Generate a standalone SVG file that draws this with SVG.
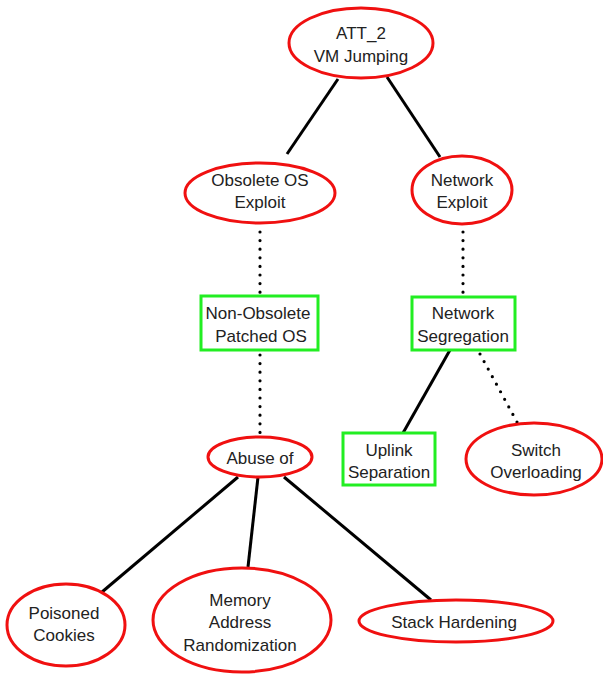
<svg xmlns="http://www.w3.org/2000/svg" width="603" height="675" viewBox="0 0 603 675">
<style>
.att{fill:#fff;stroke:#f01010;stroke-width:3}
.def{fill:#fff;stroke:#22ee22;stroke-width:3}
.e{stroke:#000;stroke-width:3;fill:none}
.d{stroke:#000;stroke-width:3.2;fill:none;stroke-dasharray:0 8.6;stroke-linecap:round}
text{font-family:"Liberation Sans",Arial,sans-serif;font-size:17px;fill:#222;text-anchor:middle}
</style>
<rect width="603" height="675" fill="#fff"/>
<g id="connectors">
<line class="e" x1="338" y1="79" x2="287" y2="154"/>
<line class="e" x1="387" y1="77" x2="440" y2="157"/>
<line class="d" x1="260" y1="232" x2="260" y2="296"/>
<line class="d" x1="463" y1="232" x2="463" y2="296"/>
<line class="d" x1="260" y1="355" x2="260" y2="437"/>
<line class="e" x1="450" y1="350" x2="403" y2="433"/>
<line class="d" x1="480" y1="354" x2="517" y2="422"/>
<line class="e" x1="238" y1="477" x2="102" y2="592"/>
<line class="e" x1="258" y1="477" x2="248" y2="567"/>
<line class="e" x1="284" y1="477" x2="431" y2="600"/>
</g>
<g id="att2"><ellipse class="att" cx="361" cy="43" rx="72" ry="35"/><text x="361" y="39">ATT_2</text><text x="361" y="62">VM Jumping</text></g>
<g id="obsolete"><ellipse class="att" cx="260" cy="193" rx="75" ry="30"/><text x="260" y="186">Obsolete OS</text><text x="260" y="208">Exploit</text></g>
<g id="netexploit"><ellipse class="att" cx="462" cy="190" rx="50" ry="34"/><text x="462" y="186">Network</text><text x="462" y="208">Exploit</text></g>
<g id="nonobsolete"><rect class="def" x="201" y="296" width="117" height="54"/><text x="258" y="319">Non-Obsolete</text><text x="261" y="342">Patched OS</text></g>
<g id="netseg"><rect class="def" x="412" y="297" width="103" height="53"/><text x="463" y="319">Network</text><text x="463" y="342">Segregation</text></g>
<g id="abuse"><ellipse class="att" cx="260" cy="457" rx="52" ry="20"/><text x="260" y="464">Abuse of</text></g>
<g id="uplink"><rect class="def" x="343" y="433" width="92" height="52"/><text x="389" y="456">Uplink</text><text x="389" y="478">Separation</text></g>
<g id="switch"><ellipse class="att" cx="534" cy="459" rx="68" ry="36"/><text x="536" y="456">Switch</text><text x="536" y="478">Overloading</text></g>
<g id="poisoned"><ellipse class="att" cx="66" cy="625" rx="59" ry="41"/><text x="64" y="619">Poisoned</text><text x="64" y="641">Cookies</text></g>
<g id="memory"><ellipse class="att" cx="242" cy="620" rx="89" ry="52"/><text x="240" y="606">Memory</text><text x="240" y="628">Address</text><text x="240" y="651">Randomization</text></g>
<g id="stack"><ellipse class="att" cx="456" cy="621" rx="97" ry="21"/><text x="454" y="628">Stack Hardening</text></g>
</svg>
